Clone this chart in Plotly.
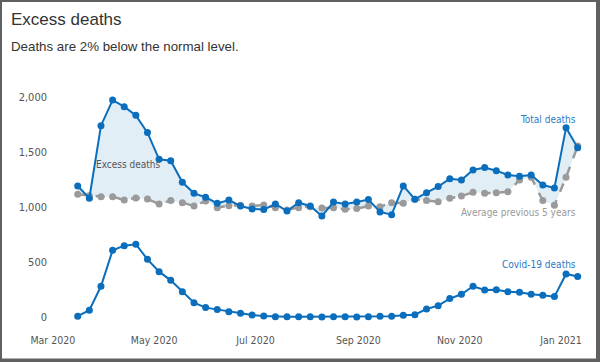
import pandas as pd
import plotly.graph_objects as go

# ---- data ----
dates = pd.date_range("2020-03-16", periods=44, freq="7D")
total_deaths = [1194, 1082, 1742, 1975, 1915, 1836, 1679, 1436, 1424, 1227,
                1127, 1091, 1036, 1066, 1012, 985, 979, 1030, 966, 1042,
                1012, 921, 1048, 1030, 1048, 1070, 958, 933, 1194, 1073,
                1133, 1188, 1260, 1248, 1339, 1361, 1333, 1294, 1282, 1294,
                1203, 1176, 1724, 1542]
avg_prev5 = [1118, 1106, 1097, 1097, 1066, 1085, 1075, 1030, 1061, 1042,
             1012, 1057, 997, 1015, 1018, 1012, 1021, 997, 976, 997,
             1006, 994, 997, 982, 988, 1012, 1006, 1042, 1036, 1073,
             1061, 1051, 1082, 1103, 1136, 1127, 1133, 1142, 1248, 1273,
             1061, 1018, 1273, 1557]
covid_deaths = [10, 64, 282, 609, 651, 664, 527, 415, 336, 233,
                133, 88, 70, 51, 36, 21, 12, 6, 6, 6,
                6, 3, 6, 6, 3, 6, 9, 9, 18, 24,
                76, 106, 170, 209, 282, 248, 251, 233, 227, 209,
                200, 188, 394, 370]
y_tickvals = [0, 500, 1000, 1500, 2000]

# ---- layout geometry ----
W, H = 600, 362
L, R, T, B = 50, 15, 85, 37
PW, PH = W - L - R, H - T - B


def px(x):
    return (x - L) / PW


def py(y):
    return (H - B - y) / PH


BLUE = "#0a6ebd"
GRAY = "#9a9a9a"
FILL = "rgba(205,227,240,0.6)"
FAM = "DejaVu Sans Condensed, DejaVu Sans, Verdana, sans-serif"
TICKFONT = dict(family=FAM, size=10.5, color="#555")

fig = go.Figure()
fig.add_trace(go.Scatter(
    x=dates, y=avg_prev5, mode="lines+markers",
    line=dict(color=GRAY, width=2.5, dash="dash"),
    marker=dict(color=GRAY, size=7), hoverinfo="skip", showlegend=False))
fig.add_trace(go.Scatter(
    x=dates, y=total_deaths, mode="lines+markers", fill="tonexty", fillcolor=FILL,
    line=dict(color=BLUE, width=2), marker=dict(color=BLUE, size=7),
    hoverinfo="skip", showlegend=False))
fig.add_trace(go.Scatter(
    x=dates, y=covid_deaths, mode="lines+markers",
    line=dict(color=BLUE, width=2), marker=dict(color=BLUE, size=7),
    hoverinfo="skip", showlegend=False))

x0 = pd.Timestamp("2020-03-01") + pd.Timedelta(days=(L - 52.8) / 1.661)
x1 = pd.Timestamp("2020-03-01") + pd.Timedelta(days=(W - R - 52.8) / 1.661)
y_lo = (317.3 - (H - B)) / 0.11
y_hi = (317.3 - T) / 0.11

fig.update_xaxes(range=[x0, x1], dtick="M2", tick0="2020-03-01", tickformat="%b %Y",
                 showgrid=False, zeroline=False, showline=False, ticks="",
                 ticklabelstandoff=7,
                 tickfont=TICKFONT, fixedrange=True)
fig.update_yaxes(range=[y_lo, y_hi], tickvals=y_tickvals, tickformat=",d",
                 showgrid=False, zeroline=False, showline=False, ticks="",
                 ticklabelstandoff=2,
                 tickfont=dict(TICKFONT, size=11), fixedrange=True)

ann_font = dict(family=FAM, size=10)
annotations = [
    dict(text="Excess deaths", x=px(8.5), y=py(19), xanchor="left", yanchor="middle",
         font=dict(family="Liberation Sans, Arial, sans-serif", size=17, color="#333")),
    dict(text="Deaths are 2% below the normal level.", x=px(8.5), y=py(46.5), xanchor="left", yanchor="middle",
         font=dict(family="Liberation Sans, Arial, sans-serif", size=13.3, color="#333")),
    dict(text="Total deaths", x=px(577.5), y=py(119.5), xanchor="right", yanchor="middle",
         font=dict(ann_font, color="#2a7cc7")),
    dict(text="Average previous 5 years", x=px(577.5), y=py(212.7), xanchor="right", yanchor="middle",
         font=dict(ann_font, color="#999")),
    dict(text="Covid-19 deaths", x=px(577.5), y=py(264.3), xanchor="right", yanchor="middle",
         font=dict(ann_font, color="#2a7cc7")),
    dict(text="Excess deaths", x=px(128), y=py(164.3), xanchor="center", yanchor="middle",
         font=dict(ann_font, color="#555")),
]
for a in annotations:
    a.update(xref="paper", yref="paper", showarrow=False)

BORDER = "#606060"
shapes = [
    dict(x0=px(0), x1=px(2), y0=py(H), y1=py(0)),
    dict(x0=px(0), x1=px(W), y0=py(2), y1=py(0)),
    dict(x0=px(596), x1=px(W), y0=py(H), y1=py(0)),
    dict(x0=px(0), x1=px(W), y0=py(H), y1=py(358.5)),
]
for s in shapes:
    s.update(type="rect", xref="paper", yref="paper", fillcolor=BORDER,
             line=dict(width=0), layer="above")

fig.update_layout(
    width=W, height=H, margin=dict(l=L, r=R, t=T, b=B),
    paper_bgcolor="white", plot_bgcolor="white",
    annotations=annotations, shapes=shapes, showlegend=False,
)

fig.write_html("out.html", config={"displayModeBar": False},
               post_script="document.body.style.margin='0';document.body.style.padding='0';document.body.style.overflow='hidden';")
